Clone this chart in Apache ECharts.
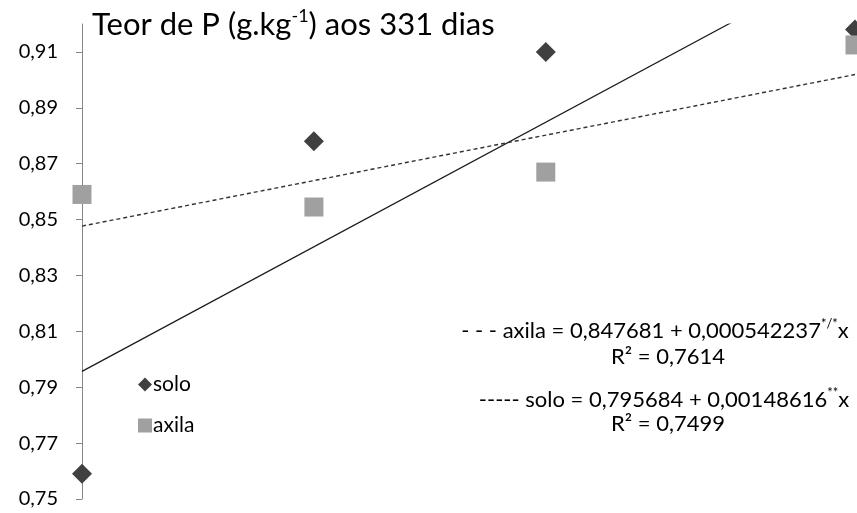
<!DOCTYPE html>
<html>
<head>
<meta charset="utf-8">
<script src="https://cdn.jsdelivr.net/npm/echarts@6/dist/echarts.min.js"></script>
<style>html,body{margin:0;padding:0;background:#fff}#c{width:857px;height:513px}</style>
</head>
<body>
<div id="c"></div>
<script>
// Data
const doses = [0, 30, 60, 100];
const solo = [0.759, 0.878, 0.910, 0.918];
const axila = [0.859, 0.8545, 0.867, 0.9125];
const yTicks = [0.75, 0.77, 0.79, 0.81, 0.83, 0.85, 0.87, 0.89, 0.91];
const soloFit = [0.795684, 0.00148616];   // intercept, slope
const axilaFit = [0.847681, 0.000542237];
const xRange = [0, 100];

const FONT = 'Lato';
const fitLine = (c) => xRange.map(x => [x, c[0] + c[1] * x]);

const chart = echarts.init(document.getElementById('c'));
const eqRich = {
  t: { fontFamily: FONT, fontSize: 22, color: '#000' },
  s: { fontFamily: FONT, fontSize: 13, color: '#000', verticalAlign: 'top', padding: [0, 0, 14, 0] }
};
chart.setOption({
  animation: false,
  backgroundColor: '#fff',
  textStyle: { fontFamily: FONT },
  grid: { left: 82, right: 2, top: 24, bottom: 14, containLabel: false },
  title: {
    left: 87, top: 2,
    text: '{a|Teor de P (g.kg}{s|-1}{a|) aos 331 dias}',
    textStyle: {
      fontWeight: 'normal',
      rich: {
        a: { fontFamily: FONT, fontSize: 31, fontWeight: 'normal', color: '#000', verticalAlign: 'bottom' },
        s: { fontFamily: FONT, fontSize: 18, fontWeight: 'normal', color: '#000', verticalAlign: 'top', padding: [0, 0, 15, 0] }
      }
    }
  },
  legend: {
    left: 133, top: 369, orient: 'vertical', itemGap: 20,
    itemWidth: 14, itemHeight: 14,
    textStyle: { fontFamily: FONT, fontSize: 21, color: '#000', padding: [0, 0, 0, -4] },
    data: [
      { name: 'solo', icon: 'diamond' },
      { name: 'axila', icon: 'rect' }
    ]
  },
  xAxis: { type: 'value', min: xRange[0], max: xRange[1], show: false },
  yAxis: {
    type: 'value', min: 0.75, max: 0.92,
    splitLine: { show: false },
    axisLine: { show: true, lineStyle: { color: '#868686', width: 1 } },
    axisTick: { show: true, inside: false, length: 6, customValues: yTicks, lineStyle: { color: '#868686' } },
    axisLabel: {
      customValues: yTicks, margin: 24,
      formatter: v => v.toFixed(2).replace('.', ','),
      fontFamily: FONT, fontSize: 20, color: '#000'
    }
  },
  graphic: [
    { type: 'text', x: 655, y: 331, style: { text: '{t|- - - axila = 0,847681 + 0,000542237}{s|*/*}{t|x}', rich: eqRich, align: 'center', verticalAlign: 'middle' } },
    { type: 'text', x: 668, y: 357, style: { text: '{t|R² = 0,7614}', rich: eqRich, align: 'center', verticalAlign: 'middle' } },
    { type: 'text', x: 664, y: 400, style: { text: '{t|----- solo = 0,795684 + 0,00148616}{s|**}{t|x}', rich: eqRich, align: 'center', verticalAlign: 'middle' } },
    { type: 'text', x: 668, y: 424, style: { text: '{t|R² = 0,7499}', rich: eqRich, align: 'center', verticalAlign: 'middle' } }
  ],
  series: [
    {
      name: 'solo', type: 'scatter', symbol: 'diamond', symbolSize: 20,
      itemStyle: { color: '#404040', opacity: 1 }, clip: false,
      data: doses.map((d, i) => [d, solo[i]]), z: 3
    },
    {
      name: 'axila', type: 'scatter', symbol: 'rect', symbolSize: 19,
      itemStyle: { color: '#a0a0a0', opacity: 1 }, clip: false,
      data: doses.map((d, i) => [d, axila[i]]), z: 3
    },
    {
      name: 'soloFit', type: 'line', symbol: 'none', clip: true,
      lineStyle: { color: '#1a1a1a', width: 1.2 },
      data: fitLine(soloFit), z: 2
    },
    {
      name: 'axilaFit', type: 'line', symbol: 'none', clip: true,
      lineStyle: { color: '#333', width: 1.4, type: [4, 3] },
      data: fitLine(axilaFit), z: 2
    }
  ]
});
</script>
</body>
</html>
